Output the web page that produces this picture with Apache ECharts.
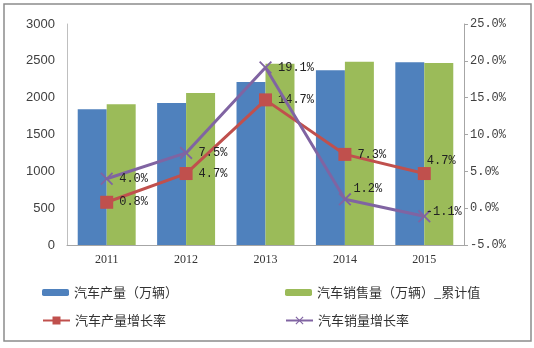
<!DOCTYPE html>
<html><head><meta charset="utf-8">
<script src="https://cdn.jsdelivr.net/npm/echarts@6/dist/echarts.min.js"></script>
<style>html,body{margin:0;padding:0;background:#fff}#c{width:534px;height:348px}</style>
</head><body><div id="c"></div>
<script>
var categories = ['2011','2012','2013','2014','2015'];
var production = [1842, 1927, 2212, 2372, 2480];
var salesCum = [1910, 2065, 2460, 2487, 2470];
var prodGrowth = [0.8, 4.7, 14.7, 7.3, 4.7];
var salesGrowth = [4.0, 7.5, 19.1, 1.2, -1.1];
var leftTicks = {min: 0, max: 3000, interval: 500};
var rightTicks = {min: -5, max: 25, interval: 5};
var names = ['汽车产量（万辆）','汽车销售量（万辆）_累计值','汽车产量增长率','汽车销量增长率'];

var prodLabelPos = ['right','right','right','right',[9,-12]];
var salesLabelPos = ['right','right','right',[15,-10],[8,-4]];
function pctData(vals, poss){
  return vals.map(function(v,i){
    return {value: v, label: {position: poss[i]}};
  });
}
var xPath = 'path://M1,0 L5,4 L9,0 L10,1 L6,5 L10,9 L9,10 L5,6 L1,10 L0,9 L4,5 L0,1 Z';
var chart = echarts.init(document.getElementById('c'));
var lblFont = {fontFamily: 'Liberation Mono, DejaVu Sans Mono, monospace', fontSize: 12, color: '#222'};
var legText = {fontSize:13, color:'#333', fontFamily:'Noto Sans CJK SC'};
chart.setOption({
  animation: false,
  graphic: [{type:'rect', shape:{x:4,y:4,width:527,height:337}, style:{fill:'none', stroke:'#8c8c8c', lineWidth:1.5}}],
  grid: {left: 67, right: 70, top: 24, bottom: 103},
  legend: [
    {data:[names[0]], left: 37, top: 281, itemWidth: 27, itemHeight: 7, textStyle:legText},
    {data:[names[1]], left: 280, top: 281, itemWidth: 27, itemHeight: 7, textStyle:legText},
    {data:[names[2]], left: 37, top: 309, itemWidth: 27, itemHeight: 10, textStyle:legText},
    {data:[names[3]], left: 280, top: 309, itemWidth: 27, itemHeight: 10, textStyle:legText}
  ],
  xAxis: {type:'category', data: categories,
    axisLine:{lineStyle:{color:'#a6a6a6'}}, axisTick:{show:false},
    axisLabel:{fontFamily:'Liberation Serif, serif', fontSize:12, color:'#333', margin:9}},
  yAxis: [
    {type:'value', min:leftTicks.min, max:leftTicks.max, interval:leftTicks.interval,
     splitLine:{show:false}, axisLine:{show:true, lineStyle:{color:'#bfbfbf'}}, axisTick:{show:false},
     axisLabel:{fontFamily:'Liberation Sans, Arial, sans-serif', fontSize:13, color:'#404040', margin:12,
       formatter:function(v){return String(v);}}},
    {type:'value', min:rightTicks.min, max:rightTicks.max, interval:rightTicks.interval, position:'right',
     splitLine:{show:false}, axisLine:{show:true, lineStyle:{color:'#a6a6a6'}},
     axisTick:{show:true, length:4, lineStyle:{color:'#a6a6a6'}},
     axisLabel:{fontFamily:'Liberation Mono, DejaVu Sans Mono, monospace', fontSize:12, color:'#404040', margin:6,
       formatter:function(v){return v.toFixed(1)+'%';}}}
  ],
  series: [
    {name:names[0], type:'bar', data: production, itemStyle:{color:'#4f81bd'}, barGap:'0%', barCategoryGap:'27%'},
    {name:names[1], type:'bar', data: salesCum, itemStyle:{color:'#9bbb59'}},
    {name:names[2], type:'line', yAxisIndex:1, data: pctData(prodGrowth, prodLabelPos),
     symbol:'rect', symbolSize:13, lineStyle:{color:'#c0504d', width:3}, itemStyle:{color:'#c0504d'},
     label:Object.assign({show:true, distance:6, formatter:function(p){return p.value.toFixed(1)+'%';}}, lblFont), z:3},
    {name:names[3], type:'line', yAxisIndex:1, data: pctData(salesGrowth, salesLabelPos),
     symbol:xPath, symbolSize:13, lineStyle:{color:'#8064a2', width:3}, itemStyle:{color:'#8064a2'},
     label:Object.assign({show:true, distance:6, formatter:function(p){return p.value.toFixed(1)+'%';}}, lblFont), z:4}
  ]
});
</script></body></html>
